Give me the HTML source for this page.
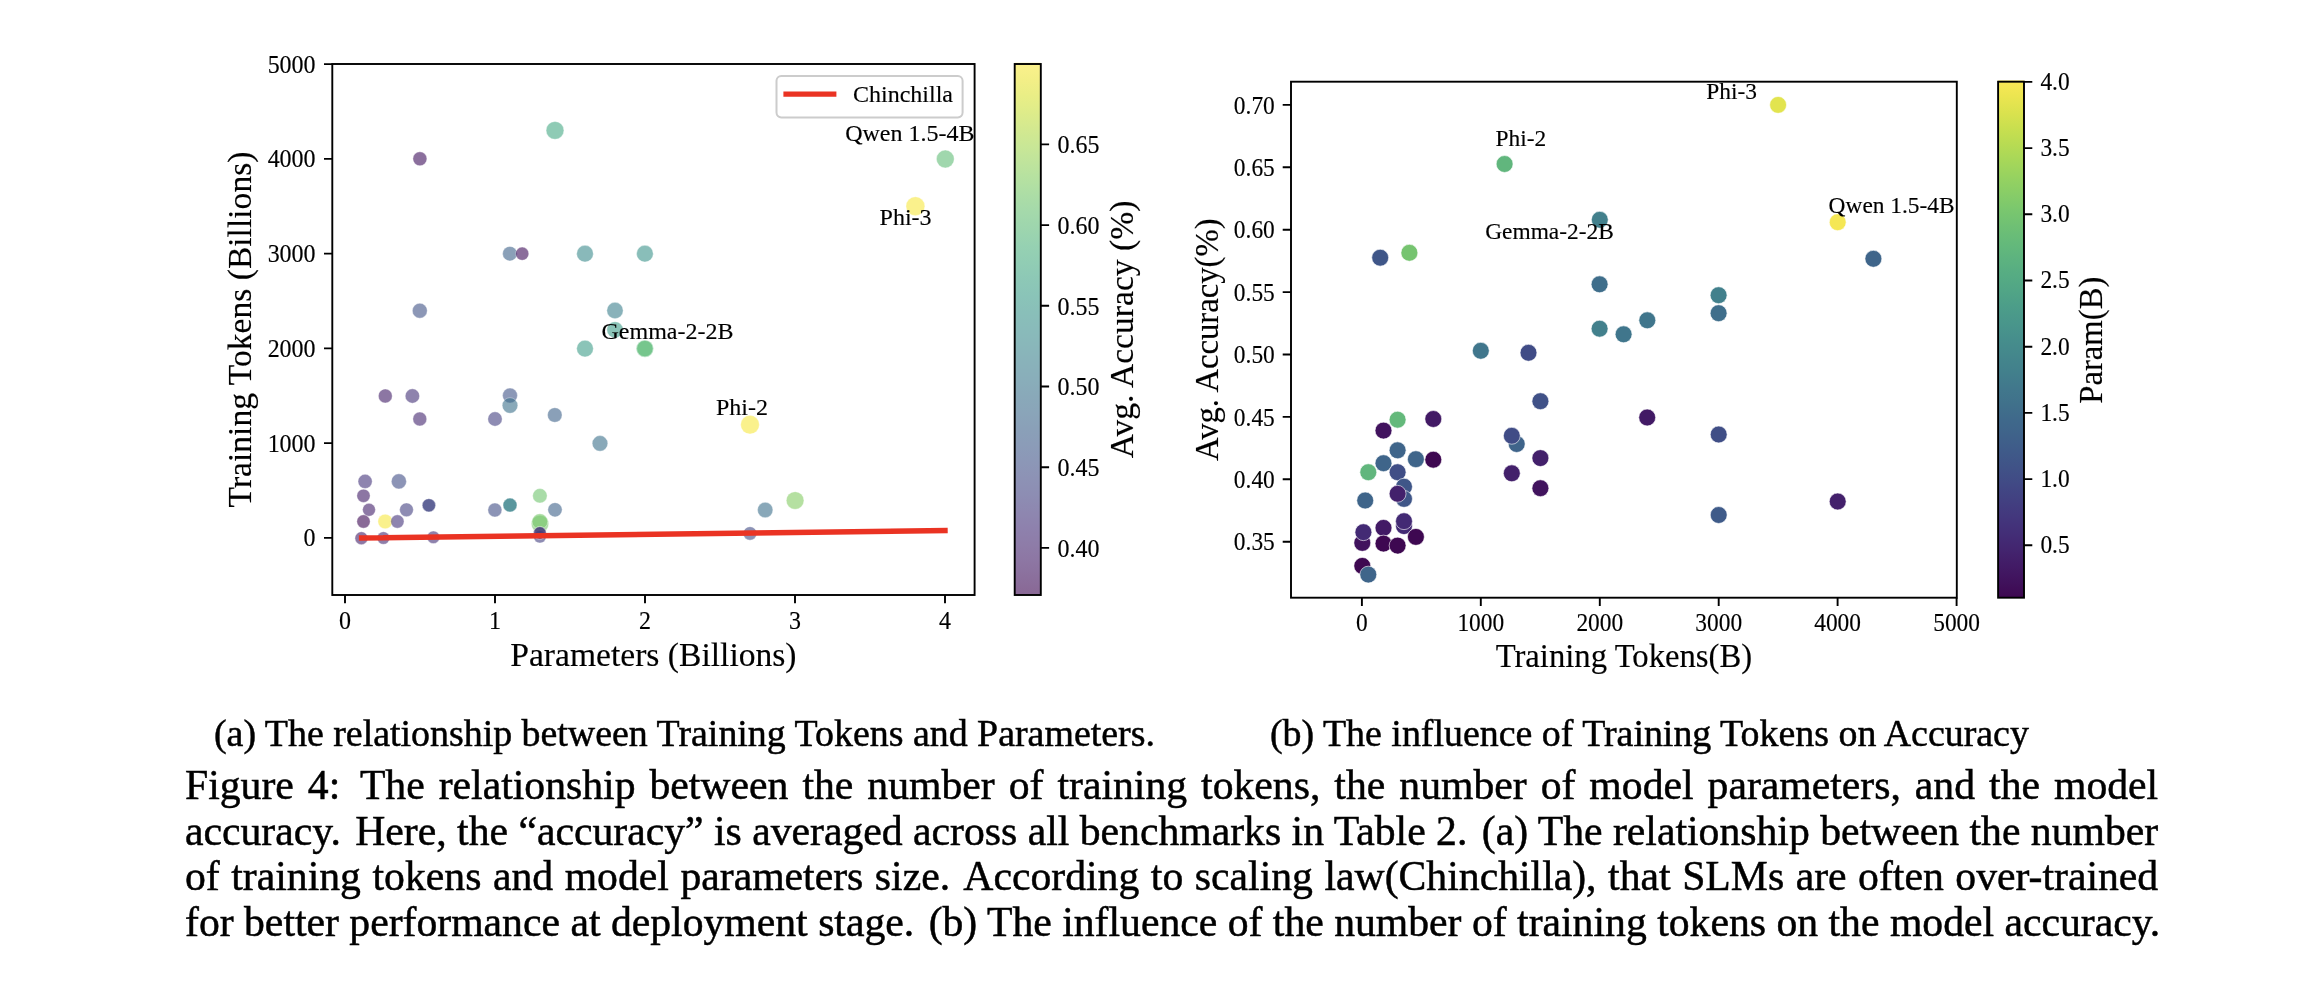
<!DOCTYPE html>
<html lang="en">
<head>
<meta charset="utf-8">
<title>Figure 4</title>
<style>
html,body{margin:0;padding:0;background:#fff;}
body{width:2322px;height:986px;position:relative;overflow:hidden;font-family:"Liberation Serif",serif;color:#000;}
.sub,.cap{will-change:transform;-webkit-text-stroke:0.5px #000;}
svg{will-change:transform;}
svg text{stroke:#000;stroke-width:0.15px;}
.sub{position:absolute;white-space:nowrap;font-size:37.9px;line-height:44px;}
.s{margin-left:4px}
.cap{position:absolute;left:184.9px;width:1973.2px;font-size:41.7px;line-height:45.7px;white-space:nowrap;text-align:justify;text-align-last:justify;}
</style>
</head>
<body>
<svg width="2322" height="986" viewBox="0 0 2322 986" style="position:absolute;left:0;top:0" font-family="'Liberation Serif', serif" fill="#000">
<defs>
<linearGradient id="gA" x1="0" y1="1" x2="0" y2="0"><stop offset="0.0000" stop-color="#896895"/><stop offset="0.0312" stop-color="#8b6f9c"/><stop offset="0.0625" stop-color="#8d76a3"/><stop offset="0.0938" stop-color="#8e7ca8"/><stop offset="0.1250" stop-color="#8e81ad"/><stop offset="0.1562" stop-color="#8e87b0"/><stop offset="0.1875" stop-color="#8d8db3"/><stop offset="0.2188" stop-color="#8d92b5"/><stop offset="0.2500" stop-color="#8c97b7"/><stop offset="0.2812" stop-color="#8b9cb8"/><stop offset="0.3125" stop-color="#8aa0b8"/><stop offset="0.3438" stop-color="#8aa5b9"/><stop offset="0.3750" stop-color="#89a9b9"/><stop offset="0.4062" stop-color="#89aeba"/><stop offset="0.4375" stop-color="#89b2ba"/><stop offset="0.4688" stop-color="#89b7ba"/><stop offset="0.5000" stop-color="#89bbba"/><stop offset="0.5312" stop-color="#89bfb9"/><stop offset="0.5625" stop-color="#8ac4b8"/><stop offset="0.5938" stop-color="#8dc8b6"/><stop offset="0.6250" stop-color="#91cdb4"/><stop offset="0.6562" stop-color="#96d1b2"/><stop offset="0.6875" stop-color="#9dd5ae"/><stop offset="0.7188" stop-color="#a4d9ab"/><stop offset="0.7500" stop-color="#acdda6"/><stop offset="0.7812" stop-color="#b5e1a1"/><stop offset="0.8125" stop-color="#bfe49c"/><stop offset="0.8438" stop-color="#c9e796"/><stop offset="0.8750" stop-color="#d3e990"/><stop offset="0.9062" stop-color="#deec8a"/><stop offset="0.9375" stop-color="#e9ee86"/><stop offset="0.9688" stop-color="#f3ef87"/><stop offset="1.0000" stop-color="#fcf18c"/></linearGradient>
<linearGradient id="gB" x1="0" y1="1" x2="0" y2="0"><stop offset="0.0000" stop-color="#3e0851"/><stop offset="0.0312" stop-color="#40125c"/><stop offset="0.0625" stop-color="#421b66"/><stop offset="0.0938" stop-color="#43256f"/><stop offset="0.1250" stop-color="#432e77"/><stop offset="0.1562" stop-color="#43377d"/><stop offset="0.1875" stop-color="#424081"/><stop offset="0.2188" stop-color="#414985"/><stop offset="0.2500" stop-color="#405287"/><stop offset="0.2812" stop-color="#3f5a89"/><stop offset="0.3125" stop-color="#3f628a"/><stop offset="0.3438" stop-color="#3f698b"/><stop offset="0.3750" stop-color="#40718b"/><stop offset="0.4062" stop-color="#41788c"/><stop offset="0.4375" stop-color="#42808c"/><stop offset="0.4688" stop-color="#44878c"/><stop offset="0.5000" stop-color="#468e8c"/><stop offset="0.5312" stop-color="#49968b"/><stop offset="0.5625" stop-color="#4c9d89"/><stop offset="0.5938" stop-color="#51a586"/><stop offset="0.6250" stop-color="#56ac83"/><stop offset="0.6562" stop-color="#5db37f"/><stop offset="0.6875" stop-color="#65ba7a"/><stop offset="0.7188" stop-color="#6fc074"/><stop offset="0.7500" stop-color="#7ac76e"/><stop offset="0.7812" stop-color="#88cd67"/><stop offset="0.8125" stop-color="#96d260"/><stop offset="0.8438" stop-color="#a6d759"/><stop offset="0.8750" stop-color="#b7db53"/><stop offset="0.9062" stop-color="#c8df4f"/><stop offset="0.9375" stop-color="#dae24e"/><stop offset="0.9688" stop-color="#ebe550"/><stop offset="1.0000" stop-color="#fae855"/></linearGradient>
</defs>
<g id="plotA">
<g stroke="#fff" stroke-width="0.6" stroke-opacity="0.6" fill-opacity="0.6">
<circle cx="365.1" cy="481.4" r="7.10" fill="#433279"/>
<circle cx="398.9" cy="481.4" r="7.55" fill="#404d85"/>
<circle cx="363.5" cy="495.8" r="6.65" fill="#401a65"/>
<circle cx="369.0" cy="509.8" r="6.45" fill="#411e69"/>
<circle cx="406.5" cy="509.8" r="6.90" fill="#423f80"/>
<circle cx="428.9" cy="505.3" r="6.65" fill="#414683"/>
<circle cx="428.9" cy="505.3" r="6.65" fill="#414683"/>
<circle cx="363.5" cy="521.5" r="6.65" fill="#3b0652"/>
<circle cx="385.2" cy="521.5" r="7.30" fill="#f7e73f"/>
<circle cx="397.4" cy="521.5" r="6.65" fill="#433279"/>
<circle cx="361.4" cy="538.2" r="6.45" fill="#411e69"/>
<circle cx="383.4" cy="538.0" r="6.30" fill="#422972"/>
<circle cx="433.4" cy="537.3" r="6.30" fill="#432e76"/>
<circle cx="494.9" cy="510.0" r="7.00" fill="#404d85"/>
<circle cx="510.0" cy="505.1" r="7.00" fill="#3a838c"/>
<circle cx="510.0" cy="505.1" r="7.00" fill="#3a838c"/>
<circle cx="539.9" cy="495.8" r="7.25" fill="#70c46e"/>
<circle cx="555.0" cy="509.8" r="7.15" fill="#3c6189"/>
<circle cx="540.0" cy="524.0" r="8.70" fill="#77c76a"/>
<circle cx="539.9" cy="521.5" r="7.85" fill="#77c76a"/>
<circle cx="539.9" cy="536.8" r="6.25" fill="#423f80"/>
<circle cx="539.9" cy="532.9" r="6.25" fill="#3e0f5b"/>
<circle cx="539.9" cy="532.9" r="6.25" fill="#423f80"/>
<circle cx="419.8" cy="310.7" r="7.45" fill="#3f5186"/>
<circle cx="615.0" cy="310.5" r="8.15" fill="#3a7e8c"/>
<circle cx="615.0" cy="329.8" r="8.15" fill="#3d9d88"/>
<circle cx="585.0" cy="348.6" r="8.35" fill="#3d9c88"/>
<circle cx="644.9" cy="348.6" r="8.70" fill="#5cba78"/>
<circle cx="644.9" cy="348.6" r="8.20" fill="#5cba78"/>
<circle cx="385.3" cy="396.0" r="6.95" fill="#401a65"/>
<circle cx="412.4" cy="396.0" r="7.20" fill="#433077"/>
<circle cx="419.8" cy="419.0" r="6.95" fill="#42246e"/>
<circle cx="495.0" cy="419.0" r="7.20" fill="#423f80"/>
<circle cx="510.0" cy="395.5" r="7.45" fill="#3f5487"/>
<circle cx="510.0" cy="405.5" r="7.80" fill="#3b708b"/>
<circle cx="554.8" cy="415.0" r="7.30" fill="#3c6189"/>
<circle cx="600.0" cy="443.4" r="7.80" fill="#3b708b"/>
<circle cx="509.9" cy="253.7" r="7.30" fill="#3c6189"/>
<circle cx="522.2" cy="253.7" r="6.60" fill="#3d0c58"/>
<circle cx="585.0" cy="253.7" r="8.35" fill="#3a8b8c"/>
<circle cx="644.9" cy="253.7" r="8.35" fill="#3a938b"/>
<circle cx="419.9" cy="158.8" r="7.00" fill="#3e0f5b"/>
<circle cx="555.0" cy="130.4" r="8.90" fill="#45a884"/>
<circle cx="945.3" cy="159.0" r="8.90" fill="#61bd76"/>
<circle cx="915.4" cy="206.2" r="9.45" fill="#f7e73f"/>
<circle cx="750.0" cy="424.7" r="9.35" fill="#f7e73f"/>
<circle cx="765.2" cy="510.0" r="7.70" fill="#3b6e8b"/>
<circle cx="795.1" cy="500.5" r="8.85" fill="#84cc63"/>
<circle cx="750.0" cy="533.4" r="6.75" fill="#404a84"/>
</g>
<line x1="361.6" y1="538.0" x2="945.0" y2="530.6" stroke="#ea3323" stroke-width="5.4" stroke-linecap="square"/>
<rect x="332.3" y="64.0" width="642.3" height="531.0" fill="none" stroke="#000" stroke-width="1.9"/>
<path d="M345.0 595.0v8.3 M495.0 595.0v8.3 M645.0 595.0v8.3 M795.0 595.0v8.3 M945.0 595.0v8.3 M332.3 537.85h-8.3 M332.3 443.10h-8.3 M332.3 348.35h-8.3 M332.3 253.60h-8.3 M332.3 158.85h-8.3 M332.3 64.10h-8.3" stroke="#000" stroke-width="1.9" fill="none"/>
<g font-size="24.0px" text-anchor="middle">
<text transform="translate(345.0,629.0) scale(1,1.045)">0</text>
<text transform="translate(495.0,629.0) scale(1,1.045)">1</text>
<text transform="translate(645.0,629.0) scale(1,1.045)">2</text>
<text transform="translate(795.0,629.0) scale(1,1.045)">3</text>
<text transform="translate(945.0,629.0) scale(1,1.045)">4</text>
</g>
<g font-size="24.0px" text-anchor="end">
<text transform="translate(315.6,546.4) scale(1,1.045)">0</text>
<text transform="translate(315.6,451.6) scale(1,1.045)">1000</text>
<text transform="translate(315.6,356.9) scale(1,1.045)">2000</text>
<text transform="translate(315.6,262.1) scale(1,1.045)">3000</text>
<text transform="translate(315.6,167.4) scale(1,1.045)">4000</text>
<text transform="translate(315.6,72.6) scale(1,1.045)">5000</text>
</g>
<text x="653.4" y="666.2" font-size="33.6px" text-anchor="middle">Parameters (Billions)</text>
<text transform="translate(251.0,329.5) rotate(-90)" font-size="33.6px" text-anchor="middle">Training Tokens (Billions)</text>
<g font-size="24.0px">
<text x="845.2" y="140.6">Qwen 1.5-4B</text>
<text x="879.6" y="225.3">Phi-3</text>
<text x="601.5" y="338.6">Gemma-2-2B</text>
<text x="715.9" y="414.7">Phi-2</text>
</g>
<rect x="776.5" y="76.0" width="186.1" height="41.4" rx="4.8" ry="4.8" fill="#fff" fill-opacity="0.8" stroke="#cccccc" stroke-width="2"/>
<line x1="786" y1="94.1" x2="833.8" y2="94.1" stroke="#ea3323" stroke-width="5.2" stroke-linecap="square"/>
<text x="853.0" y="102.4" font-size="24.0px">Chinchilla</text>
<rect x="1014.7" y="62.8" width="26.1" height="532.2" fill="url(#gA)"/>
<rect x="1014.7" y="64.0" width="26.1" height="531.0" fill="none" stroke="#000" stroke-width="1.9"/>
<g font-size="24.0px">
<text transform="translate(1057.6,556.6) scale(1,1.045)">0.40</text>
<text transform="translate(1057.6,475.9) scale(1,1.045)">0.45</text>
<text transform="translate(1057.6,395.2) scale(1,1.045)">0.50</text>
<text transform="translate(1057.6,314.5) scale(1,1.045)">0.55</text>
<text transform="translate(1057.6,233.8) scale(1,1.045)">0.60</text>
<text transform="translate(1057.6,153.1) scale(1,1.045)">0.65</text>
</g>
<path d="M1040.8 547.90h8.3 M1040.8 467.20h8.3 M1040.8 386.50h8.3 M1040.8 305.80h8.3 M1040.8 225.10h8.3 M1040.8 144.40h8.3" stroke="#000" stroke-width="1.9" fill="none"/>
<text transform="translate(1133.0,329.5) rotate(-90)" font-size="33.6px" text-anchor="middle">Avg. Accuracy (%)</text>
</g>
<g id="plotB">
<g stroke="#fff" stroke-width="0.6">
<circle cx="1540.4" cy="401.2" r="8.45" fill="#405187"/>
<circle cx="1397.6" cy="419.7" r="8.45" fill="#64b97b"/>
<circle cx="1433.3" cy="419.0" r="8.45" fill="#421a65"/>
<circle cx="1383.5" cy="430.6" r="8.45" fill="#41135e"/>
<circle cx="1516.7" cy="444.0" r="8.45" fill="#3f648a"/>
<circle cx="1511.8" cy="435.8" r="8.45" fill="#404c86"/>
<circle cx="1397.6" cy="450.3" r="8.45" fill="#3f658a"/>
<circle cx="1415.9" cy="459.2" r="8.45" fill="#3f658a"/>
<circle cx="1433.3" cy="459.7" r="8.45" fill="#3e0851"/>
<circle cx="1540.4" cy="458.1" r="8.45" fill="#43206b"/>
<circle cx="1383.5" cy="463.2" r="8.45" fill="#3f658a"/>
<circle cx="1368.3" cy="472.2" r="8.45" fill="#61b67d"/>
<circle cx="1397.6" cy="472.2" r="8.45" fill="#404e86"/>
<circle cx="1511.8" cy="473.3" r="8.45" fill="#43206b"/>
<circle cx="1404.0" cy="486.7" r="8.45" fill="#3f5688"/>
<circle cx="1404.0" cy="498.9" r="8.45" fill="#3f5688"/>
<circle cx="1397.6" cy="493.8" r="8.45" fill="#43216c"/>
<circle cx="1540.4" cy="488.2" r="8.45" fill="#41135e"/>
<circle cx="1365.2" cy="500.5" r="8.45" fill="#3f658a"/>
<circle cx="1404.0" cy="526.1" r="8.45" fill="#432a74"/>
<circle cx="1404.0" cy="521.2" r="8.45" fill="#432a74"/>
<circle cx="1383.5" cy="527.9" r="8.45" fill="#421a65"/>
<circle cx="1362.3" cy="542.9" r="8.45" fill="#41135e"/>
<circle cx="1363.4" cy="532.2" r="8.45" fill="#432a74"/>
<circle cx="1383.5" cy="543.6" r="8.45" fill="#3e0851"/>
<circle cx="1397.6" cy="545.6" r="8.45" fill="#3e0851"/>
<circle cx="1415.9" cy="536.9" r="8.45" fill="#3e0851"/>
<circle cx="1362.3" cy="565.9" r="8.45" fill="#3e0851"/>
<circle cx="1368.3" cy="574.6" r="8.45" fill="#3f658a"/>
<circle cx="1380.2" cy="257.7" r="8.45" fill="#3f5688"/>
<circle cx="1409.4" cy="252.8" r="8.45" fill="#76c470"/>
<circle cx="1504.6" cy="164.0" r="8.45" fill="#61b67d"/>
<circle cx="1599.8" cy="219.8" r="8.45" fill="#42808c"/>
<circle cx="1599.6" cy="284.3" r="8.45" fill="#3f6e8b"/>
<circle cx="1718.6" cy="295.2" r="8.45" fill="#42808c"/>
<circle cx="1718.6" cy="313.2" r="8.45" fill="#3f6e8b"/>
<circle cx="1647.3" cy="320.3" r="8.45" fill="#40768c"/>
<circle cx="1599.6" cy="328.7" r="8.45" fill="#42808c"/>
<circle cx="1623.6" cy="334.3" r="8.45" fill="#40768c"/>
<circle cx="1480.8" cy="350.8" r="8.45" fill="#40768c"/>
<circle cx="1528.5" cy="352.8" r="8.45" fill="#404c86"/>
<circle cx="1778.1" cy="104.9" r="8.45" fill="#e2e44f"/>
<circle cx="1837.7" cy="222.2" r="8.45" fill="#f5e754"/>
<circle cx="1873.4" cy="258.8" r="8.45" fill="#3f658a"/>
<circle cx="1647.2" cy="417.5" r="8.45" fill="#421a65"/>
<circle cx="1718.7" cy="434.5" r="8.45" fill="#404e86"/>
<circle cx="1718.7" cy="515.0" r="8.45" fill="#3f5b89"/>
<circle cx="1837.7" cy="501.5" r="8.45" fill="#43206b"/>
</g>
<rect x="1291.0" y="81.7" width="665.8" height="516.0" fill="none" stroke="#000" stroke-width="1.9"/>
<path d="M1361.9 597.7v8.3 M1480.8 597.7v8.3 M1599.8 597.7v8.3 M1718.7 597.7v8.3 M1837.6 597.7v8.3 M1956.6 597.7v8.3 M1291.0 541.70h-8.3 M1291.0 479.30h-8.3 M1291.0 416.90h-8.3 M1291.0 354.50h-8.3 M1291.0 292.10h-8.3 M1291.0 229.70h-8.3 M1291.0 167.30h-8.3 M1291.0 104.90h-8.3" stroke="#000" stroke-width="1.9" fill="none"/>
<g font-size="23.4px" text-anchor="middle">
<text transform="translate(1361.9,630.6) scale(1,1.045)">0</text>
<text transform="translate(1480.8,630.6) scale(1,1.045)">1000</text>
<text transform="translate(1599.8,630.6) scale(1,1.045)">2000</text>
<text transform="translate(1718.7,630.6) scale(1,1.045)">3000</text>
<text transform="translate(1837.6,630.6) scale(1,1.045)">4000</text>
<text transform="translate(1956.6,630.6) scale(1,1.045)">5000</text>
</g>
<g font-size="23.4px" text-anchor="end">
<text transform="translate(1274.8,550.3) scale(1,1.045)">0.35</text>
<text transform="translate(1274.8,487.9) scale(1,1.045)">0.40</text>
<text transform="translate(1274.8,425.5) scale(1,1.045)">0.45</text>
<text transform="translate(1274.8,363.1) scale(1,1.045)">0.50</text>
<text transform="translate(1274.8,300.7) scale(1,1.045)">0.55</text>
<text transform="translate(1274.8,238.3) scale(1,1.045)">0.60</text>
<text transform="translate(1274.8,175.9) scale(1,1.045)">0.65</text>
<text transform="translate(1274.8,113.5) scale(1,1.045)">0.70</text>
</g>
<text x="1623.9" y="667.2" font-size="32.7px" text-anchor="middle">Training Tokens(B)</text>
<text transform="translate(1218.0,339.7) rotate(-90)" font-size="32.7px" text-anchor="middle">Avg. Accuracy(%)</text>
<g font-size="23.4px">
<text x="1706.2" y="98.9">Phi-3</text>
<text x="1495.6" y="146.1">Phi-2</text>
<text x="1485.2" y="239.1">Gemma-2-2B</text>
<text x="1828.6" y="212.6">Qwen 1.5-4B</text>
</g>
<rect x="1998.1" y="80.5" width="25.9" height="517.2" fill="url(#gB)"/>
<rect x="1998.1" y="81.7" width="25.9" height="516.0" fill="none" stroke="#000" stroke-width="1.9"/>
<g font-size="23.4px">
<text transform="translate(2040.4,553.1) scale(1,1.045)">0.5</text>
<text transform="translate(2040.4,486.9) scale(1,1.045)">1.0</text>
<text transform="translate(2040.4,420.7) scale(1,1.045)">1.5</text>
<text transform="translate(2040.4,354.5) scale(1,1.045)">2.0</text>
<text transform="translate(2040.4,288.3) scale(1,1.045)">2.5</text>
<text transform="translate(2040.4,222.1) scale(1,1.045)">3.0</text>
<text transform="translate(2040.4,155.9) scale(1,1.045)">3.5</text>
<text transform="translate(2040.4,89.7) scale(1,1.045)">4.0</text>
</g>
<path d="M2024.0 545.30h8.3 M2024.0 479.10h8.3 M2024.0 412.90h8.3 M2024.0 346.70h8.3 M2024.0 280.50h8.3 M2024.0 214.30h8.3 M2024.0 148.10h8.3 M2024.0 81.90h8.3" stroke="#000" stroke-width="1.9" fill="none"/>
<text transform="translate(2101.9,340.2) rotate(-90)" font-size="32.7px" text-anchor="middle">Param(B)</text>
</g>
</svg>
<div class="sub" id="suba" style="left:213.6px;top:711.4px">(a) The relationship between Training Tokens and Parameters.</div>
<div class="sub" id="subb" style="left:1270.2px;top:711.4px">(b) The influence of Training Tokens on Accuracy</div>
<div class="cap" id="cap0" style="top:762.8px">Figure 4: <span style="margin-left:5.6px">The</span> relationship between the number of training tokens, the number of model parameters, and the model</div>
<div class="cap" id="cap1" style="top:808.5px">accuracy.<span class="s"> </span>Here, the “accuracy” is averaged across all benchmarks in Table 2.<span class="s"> </span>(a) The relationship between the number</div>
<div class="cap" id="cap2" style="top:854.2px">of training tokens and model parameters size.<span class="s"> </span>According to scaling law(Chinchilla), that SLMs are often over-trained</div>
<div class="cap" id="cap3" style="top:899.9px">for better performance at deployment stage.<span class="s"> </span>(b) The influence of the number of training tokens on the model accuracy.</div>
</body>
</html>
